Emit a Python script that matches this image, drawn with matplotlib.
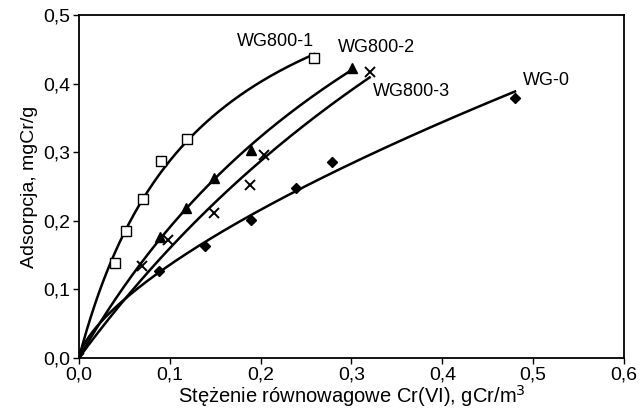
import numpy as np
import matplotlib
matplotlib.use("Agg")
import matplotlib.pyplot as plt
from matplotlib.ticker import FuncFormatter

plt.rcParams['font.family'] = ['Liberation Sans', 'DejaVu Sans']

# ---- data ----
c_wg800_1 = [0.04, 0.052, 0.07, 0.09, 0.119, 0.259]
q_wg800_1 = [0.138, 0.185, 0.231, 0.287, 0.319, 0.438]

c_wg800_2 = [0.089, 0.118, 0.149, 0.189, 0.301]
q_wg800_2 = [0.176, 0.219, 0.262, 0.303, 0.423]

c_wg800_3 = [0.0, 0.069, 0.098, 0.149, 0.188, 0.204, 0.320]
q_wg800_3 = [0.0, 0.134, 0.172, 0.211, 0.252, 0.296, 0.417]

c_wg0 = [0.088, 0.139, 0.189, 0.239, 0.279, 0.480]
q_wg0 = [0.127, 0.163, 0.201, 0.248, 0.286, 0.379]

labels = ["WG800-1", "WG800-2", "WG800-3", "WG-0"]
label_pos = [(0.174, 0.462), (0.285, 0.453), (0.324, 0.388), (0.489, 0.404)]
trend_models = ["langmuir", "langmuir", "langmuir", "power"]

xticks = [0.0, 0.1, 0.2, 0.3, 0.4, 0.5, 0.6]
yticks = [0.0, 0.1, 0.2, 0.3, 0.4, 0.5]


def langmuir_curve(c, q, xs):
    c = np.asarray(c, float)
    q = np.asarray(q, float)
    best = None
    for K in np.linspace(0.1, 40, 4000):
        f = K * c / (1 + K * c)
        qm = np.dot(f, q) / np.dot(f, f)
        err = np.sum((qm * f - q) ** 2)
        if best is None or err < best[0]:
            best = (err, K, qm)
    _, K, qm = best
    return qm * K * xs / (1 + K * xs)


def power_curve(c, q, xs):
    c = np.asarray(c, float)
    q = np.asarray(q, float)
    m = (c > 0) & (q > 0)
    n, lnk = np.polyfit(np.log(c[m]), np.log(q[m]), 1)
    return np.exp(lnk) * xs ** n


fig = plt.figure(figsize=(6.42, 4.19), dpi=100)
ax = fig.add_axes([0.123, 0.146, 0.849, 0.818])

series = [
    (c_wg800_1, q_wg800_1, dict(marker='s', mfc='white', mec='black', ms=6.5, mew=1.0)),
    (c_wg800_2, q_wg800_2, dict(marker='^', mfc='black', mec='black', ms=7.5)),
    (c_wg800_3, q_wg800_3, dict(marker='x', mfc='black', mec='black', ms=7, mew=1.4)),
    (c_wg0, q_wg0, dict(marker='D', mfc='black', mec='black', ms=5)),
]

for (c, q, mk), model in zip(series, trend_models):
    xs = np.linspace(0, max(c), 300)
    ys = langmuir_curve(c, q, xs) if model == "langmuir" else power_curve(c, q, xs)
    ax.plot(xs, ys, color='black', lw=1.8, zorder=2)
    ax.plot(c, q, ls='none', zorder=3, **mk)

for lab, (lx, ly) in zip(labels, label_pos):
    ax.text(lx, ly, lab, fontsize=13, va='center', ha='left')

ax.set_xlim(0, 0.6)
ax.set_ylim(0, 0.5)
ax.set_xticks(xticks)
ax.set_yticks(yticks)
fmt = FuncFormatter(lambda v, p: f"{v:.1f}".replace('.', ','))
ax.xaxis.set_major_formatter(fmt)
ax.yaxis.set_major_formatter(fmt)
ax.tick_params(direction='out', length=4, width=1, labelsize=14, pad=2)
for s in ax.spines.values():
    s.set_linewidth(1.3)

ax.set_xlabel("Stężenie równowagowe Cr(VI), gCr/m$^3$", fontsize=14.5, labelpad=0)
ax.set_ylabel("Adsorpcja, mgCr/g", fontsize=14, labelpad=4)

fig.savefig("out.png", dpi=100)
